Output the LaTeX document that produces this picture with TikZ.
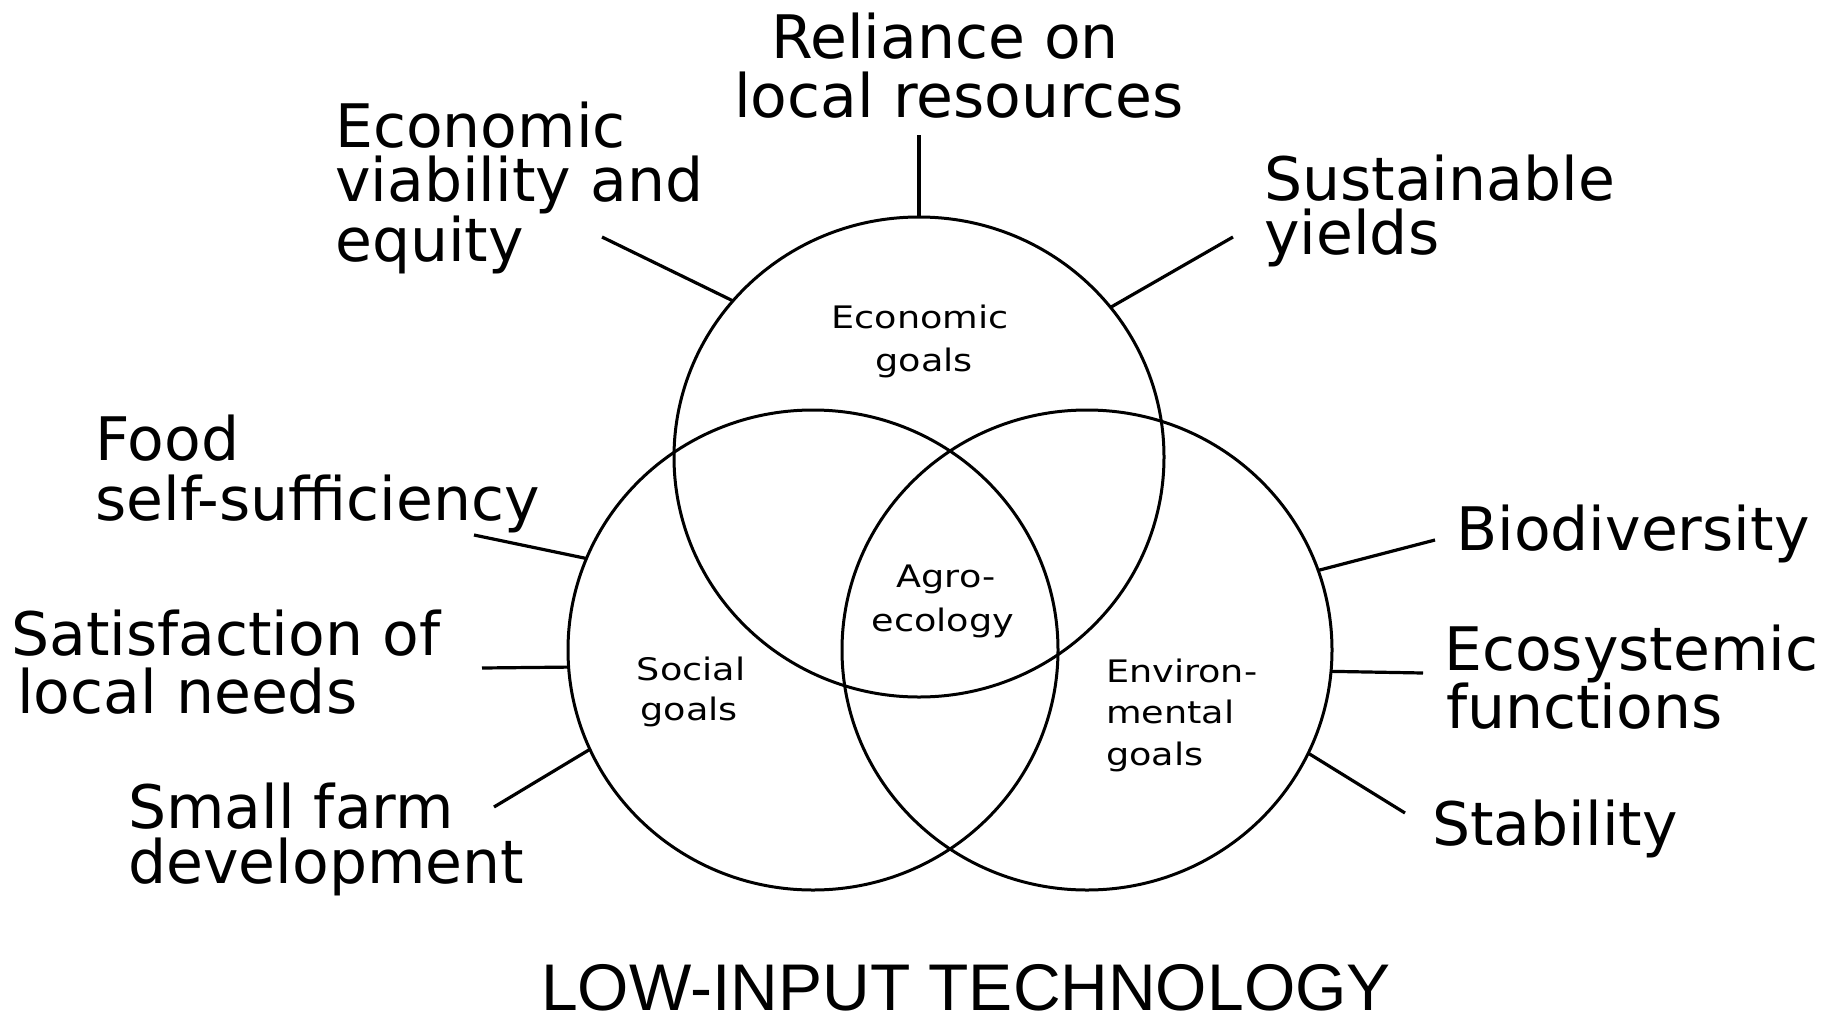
\documentclass[tikz,border=0pt]{standalone}
\usepackage{fontspec}
\usetikzlibrary{shapes.geometric}
\newfontfamily\labfam{DejaVu Sans}
\newfontfamily\smfam[FakeStretch=1.18]{DejaVu Sans}
\newfontfamily\ttlfam{Liberation Sans}
\begin{document}
\begin{tikzpicture}[x=1pt,y=-1pt,
  ring/.style={ellipse, draw, line width=3pt, minimum width=490pt, minimum height=480pt, inner sep=0pt, outer sep=0pt},
  conn/.style={line width=3.2pt},
  lab/.style={font=\labfam\fontsize{60}{60}\selectfont, inner sep=0pt, anchor=base west},
  labc/.style={lab, anchor=base},
  sm/.style={font=\smfam\fontsize{31}{31}\selectfont, inner sep=0pt, anchor=base},
  sml/.style={sm, anchor=base west},
  ttl/.style={font=\ttlfam\fontsize{66}{66}\selectfont, inner sep=0pt, anchor=base}]
\useasboundingbox (0,0) rectangle (1848,1023);

% circles
\node[ring] (ctop) at (919,457) {};
\node[ring] (csoc) at (813,650) {};
\node[ring] (cenv) at (1087,650) {};

% outer labels
\node[labc] (rel1) at (945,58) {Reliance on};
\node[labc] (rel2) at (959,117) {local resources};
\node[lab] (eco1) at (335,147) {Economic};
\node[lab] (eco2) at (335,201) {viability and};
\node[lab] (eco3) at (335,261) {equity};
\node[lab] (sus1) at (1264,200) {Sustainable};
\node[lab] (sus2) at (1264,254) {yields};
\node[lab] (food1) at (95,460) {Food};
\node[lab] (food2) at (95,520) {self-sufficiency};
\node[lab] (sat1) at (11,655) {Satisfaction of};
\node[lab] (sat2) at (17,713) {local needs};
\node[lab] (sf1) at (128,828) {Small farm};
\node[lab] (sf2) at (128,883) {development};
\node[lab] (bio) at (1456,550) {Biodiversity};
\node[lab] (ecs1) at (1444,670) {Ecosystemic};
\node[lab] (ecs2) at (1446,728) {functions};
\node[lab] (stab) at (1432,845) {Stability};

% inner labels
\node[sm] (g1) at (920,328) {Economic};
\node[sm] (g2) at (924,371) {goals};
\node[sm] (a1) at (946,587) {Agro-};
\node[sm] (a2) at (943,631) {ecology};
\node[sm] (s1) at (691,680) {Social};
\node[sm] (s2) at (689,720) {goals};
\node[sml] (en1) at (1106,682) {Environ-};
\node[sml] (en2) at (1106,723) {mental};
\node[sml] (en3) at (1106,765) {goals};

% title
\node[ttl] (title) at (966,1010) {LOW-INPUT TECHNOLOGY};

% connectors
\coordinate (kRel) at (919,135);
\coordinate (kEco) at (602,237);
\coordinate (kSus) at (1233,237);
\coordinate (kFood) at (474,535);
\coordinate (kSat) at (482,668);
\coordinate (kSf) at (494,807);
\coordinate (kBio) at (1435,540);
\coordinate (kEcs) at (1423,673);
\coordinate (kStab) at (1405,813);
\draw[conn] (kRel) -- (ctop.90);
\draw[conn] (kEco) -- (ctop.140.6);
\draw[conn] (kSus) -- (ctop.38.8);
\draw[conn] (kFood) -- (csoc.158.6);
\draw[conn] (kSat) -- (csoc.184.2);
\draw[conn] (kSf) -- (csoc.204.9);
\draw[conn] (kBio) -- (cenv.19.8);
\draw[conn] (kEcs) -- (cenv.-5.4);
\draw[conn] (kStab) -- (cenv.-25.7);
\end{tikzpicture}
\end{document}
